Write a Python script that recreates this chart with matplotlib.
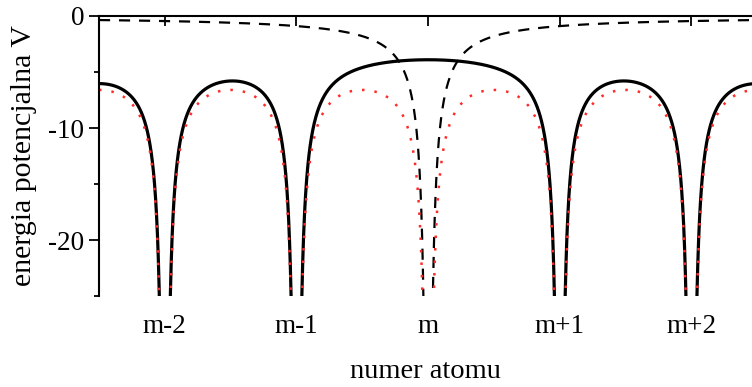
import numpy as np
import matplotlib.pyplot as plt

plt.rcParams['font.family'] = ['Liberation Serif', 'DejaVu Serif']
plt.rcParams['axes.unicode_minus'] = False

# atom positions (in lattice units) and their labels
atom_ticks = [-2, -1, 0, 1, 2]
atom_labels = ['m-2', 'm-1', 'm', 'm+1', 'm+2']
lattice = np.arange(-40, 41)      # atoms of the chain, m at 0
charge = 0.9                      # strength of one atom's -q/r well
full_peak = -6.6                  # dotted curve half way between atoms
vacancy_peak = -5.8               # solid curve half way between m+1 and m+2
y_ticks = [0, -10, -20]
y_minor = [-5, -15, -25]

x = np.linspace(-2.5, 2.46, 40001)


def well(xx, x0):
    with np.errstate(divide='ignore'):
        return -charge / np.abs(xx - x0)


def chain(xx, atoms):
    return sum(well(xx, p) for p in atoms)


vac_atoms = lattice[lattice != 0]
full = chain(x, lattice)
full = full + full_peak - chain(np.array([1.5]), lattice)[0]
vacancy = chain(x, vac_atoms)
vacancy = vacancy + vacancy_peak - chain(np.array([1.5]), vac_atoms)[0]
single = well(x, 0)

for arr in (full, vacancy, single):
    arr[arr < -60] = np.nan

fig = plt.figure(figsize=(7.52, 3.87), dpi=100)
ax = fig.add_axes([99 / 752, 1 - 296 / 387, 1 - 99 / 752, 280 / 387])

ax.plot(x, vacancy, color='black', lw=2.3)
ax.plot(x, single, color='black', lw=1.6, ls=(0, (5, 4)))
ax.plot(x, full, color='#ff2a2a', lw=1.8, ls=(0, (1, 4)))

ax.set_xlim(-2.5, 2.46)
ax.set_ylim(-25, 0)
ax.spines['bottom'].set_visible(False)
ax.spines['right'].set_visible(False)
ax.spines['top'].set_linewidth(1.5)
ax.spines['left'].set_linewidth(1.5)

ax.set_xticks(atom_ticks)
ax.set_xticklabels(atom_labels)
ax.tick_params(axis='x', top=True, bottom=False, labeltop=False,
               labelbottom=True, direction='in', length=7.5, width=1.3,
               pad=13, labelsize=19.5)
ax.set_yticks(y_ticks)
ax.set_yticks(y_minor, minor=True)
ax.tick_params(axis='y', which='major', direction='out', length=7.5,
               width=1.3, labelsize=19.5, pad=3)
ax.tick_params(axis='y', which='minor', direction='out', length=3.8,
               width=1.3)

ax.set_xlabel('numer atomu', fontsize=20.5, labelpad=14)
ax.set_ylabel('energia potencjalna V', fontsize=21.5, labelpad=8)

fig.savefig('out.png', dpi=100)
